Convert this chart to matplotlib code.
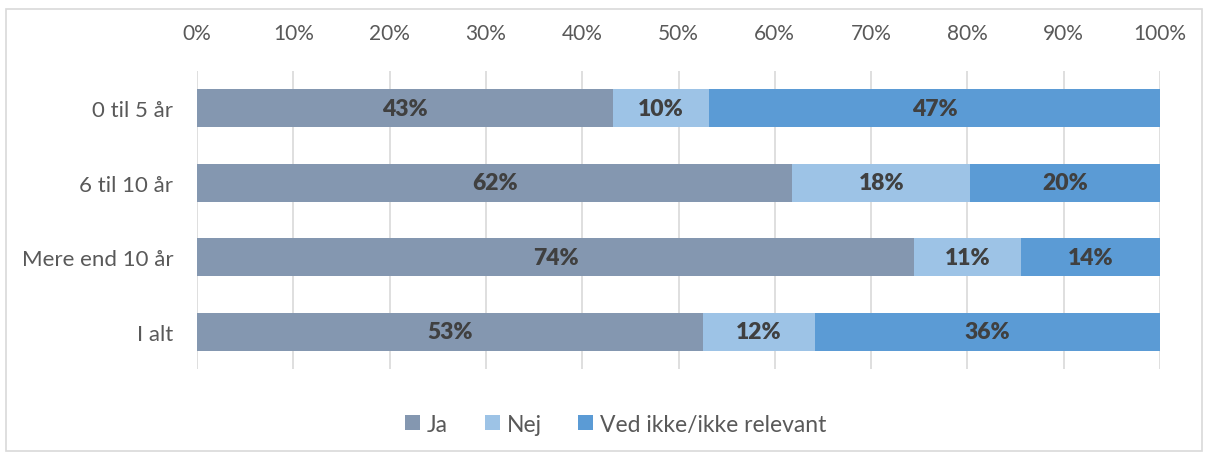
import matplotlib.pyplot as plt
from matplotlib.patches import Rectangle

categories = ['0 til 5 år', '6 til 10 år', 'Mere end 10 år', 'I alt']
ja = [43.2, 61.8, 74.5, 52.5]
nej = [10.0, 18.5, 11.1, 11.7]
ved = [46.8, 19.7, 14.4, 35.8]
labels_ja = ['43%', '62%', '74%', '53%']
labels_nej = ['10%', '18%', '11%', '12%']
labels_ved = ['47%', '20%', '14%', '36%']
series_names = ['Ja', 'Nej', 'Ved ikke/ikke relevant']
colors = ['#8497B0', '#9DC3E6', '#5B9BD5']

plt.rcParams['font.family'] = ['Lato', 'DejaVu Sans']
fig = plt.figure(figsize=(12.08, 4.56), dpi=100)
ax = fig.add_axes([197 / 1208, 1 - 370 / 456, 963 / 1208, 298 / 456])

fig.patches.append(Rectangle((6 / 1208, 4 / 456), 1196 / 1208, 442 / 456,
                             transform=fig.transFigure, fill=False,
                             edgecolor='#D9D9D9', lw=1.2))

y = list(range(len(categories)))
left = [0] * len(categories)
for vals, labs, col, name in zip([ja, nej, ved], [labels_ja, labels_nej, labels_ved],
                                 colors, series_names):
    bars = ax.barh(y, vals, left=left, height=0.51, color=col, label=name, zorder=2)
    for b, lab in zip(bars, labs):
        ax.text(b.get_x() + b.get_width() / 2, b.get_y() + b.get_height() / 2, lab,
                ha='center', va='center', fontsize=16.5, fontweight='heavy', color='#404040',
                zorder=3)
    left = [l + v for l, v in zip(left, vals)]

ax.set_xlim(0, 100)
ax.set_ylim(3.5, -0.5)
ax.set_xticks(range(0, 101, 10))
ax.set_xticklabels([f'{t}%' for t in range(0, 101, 10)])
ax.xaxis.tick_top()
ax.set_yticks(y)
ax.set_yticklabels(categories)
ax.tick_params(axis='x', length=0, labelsize=15, labelcolor='#595959', pad=20)
ax.tick_params(axis='y', length=0, labelsize=16, labelcolor='#595959', pad=17)
ax.grid(axis='x', color='#D9D9D9', lw=1.2, zorder=0)
for s in ax.spines.values():
    s.set_visible(False)

ax.legend(loc='center', bbox_to_anchor=(0.435, -0.185), ncol=3, frameon=False,
          fontsize=16.5, labelcolor='#595959', handlelength=0.65, handleheight=0.65,
          handletextpad=0.3, columnspacing=1.6)

fig.savefig('out.png', dpi=100)
